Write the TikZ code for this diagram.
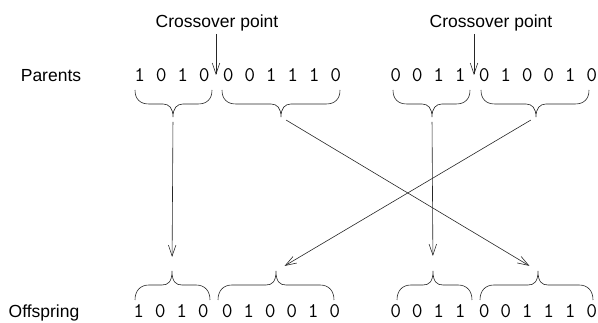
\documentclass[tikz,border=0pt]{standalone}
\usepackage{fontspec}
\newfontfamily\labelfont{Liberation Sans}
\usetikzlibrary{arrows.meta}
\newcommand\bracedown[4]{%
  \draw[bracestyle] (#1,90) .. controls (#1,99) and (#1+5,104) .. (#1+14,104) -- (#3-10,104)
    .. controls (#3-4,104) and (#3,108) .. (#3,117)
    .. controls (#3,108) and (#3+4,104) .. (#3+10,104) -- (#2-14,104)
    .. controls (#2-5,104) and (#2,99) .. (#2,90);
  \coordinate (#4) at (#3,117);}
\newcommand\braceup[4]{%
  \draw[bracestyle] (#1,300) .. controls (#1,291) and (#1+5,285) .. (#1+14,285) -- (#3-10,285)
    .. controls (#3-4,285) and (#3,282) .. (#3,271)
    .. controls (#3,282) and (#3+4,285) .. (#3+10,285) -- (#2-14,285)
    .. controls (#2-5,285) and (#2,291) .. (#2,300);
  \coordinate (#4) at (#3,271);}
\begin{document}
\begin{tikzpicture}[x=1pt,y=-1pt,
  lbl/.style={font=\labelfont\fontsize{17.5}{20}\selectfont, inner sep=0pt, anchor=base},
  bits/.style={font=\ttfamily\fontsize{20.9}{24}\selectfont, inner sep=0pt, anchor=base},
  bracestyle/.style={line width=0.6pt, black!85},
  arr/.style={line width=0.6pt, black!85, -{Straight Barb[length=11pt,width=7.5pt]}}]
\useasboundingbox (0,0) rectangle (598,323);
% labels
\node[lbl] (parents) at (51,82) {Parents};
\node[lbl] (offspring) at (44,318) {Offspring};
\node[lbl] (c1) at (217,28) {Crossover point};
\node[lbl] (c2) at (491,28) {Crossover point};
% bit strings
\node[bits] (p1a) at (172,82) {1 0 1 0};
\node[bits] (p1b) at (282,82) {0 0 1 1 1 0};
\node[bits] (p2a) at (428,82) {0 0 1 1};
\node[bits] (p2b) at (538,82) {0 1 0 0 1 0};
\node[bits] (o1a) at (171,318) {1 0 1 0};
\node[bits] (o1b) at (281,318) {0 1 0 0 1 0};
\node[bits] (o2a) at (428,318) {0 0 1 1};
\node[bits] (o2b) at (538,318) {0 0 1 1 1 0};
% crossover arrows
\coordinate (x1) at (216,75);
\coordinate (x2) at (474,75);
\draw[arr] (x1 |- c1.south) ++(0,2) -- (x1);
\draw[arr] (x2 |- c2.south) ++(0,2) -- (x2);
% braces
\bracedown{135}{212}{173}{tp1a}
\bracedown{222}{340}{281}{tp1b}
\bracedown{393}{470}{432}{tp2a}
\bracedown{481}{589}{536}{tp2b}
\braceup{135}{210}{172}{to1a}
\braceup{218}{334}{276}{to1b}
\braceup{397}{472}{433}{to2a}
\braceup{480}{593}{538}{to2b}
% crossing arrows
\draw[arr, shorten <=5pt, shorten >=14pt] (tp1a) -- (to1a);
\draw[arr, shorten <=6pt, shorten >=10pt] (tp1b) -- (to2b);
\draw[arr, shorten <=5pt, shorten >=15pt] (tp2a) -- (to2a);
\draw[arr, shorten <=6pt, shorten >=10pt] (tp2b) -- (to1b);
\end{tikzpicture}
\end{document}
